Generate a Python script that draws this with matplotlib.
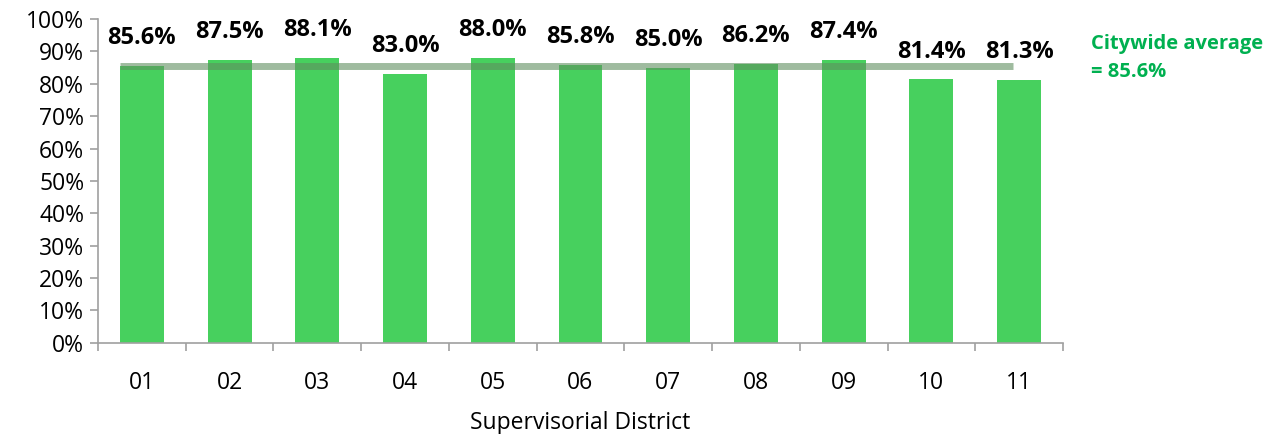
import matplotlib.pyplot as plt
import numpy as np

districts = ['01', '02', '03', '04', '05', '06', '07', '08', '09', '10', '11']
rates = [85.6, 87.5, 88.1, 83.0, 88.0, 85.8, 85.0, 86.2, 87.4, 81.4, 81.3]
citywide = 85.6

plt.rcParams['font.family'] = ['Open Sans', 'DejaVu Sans']

fig = plt.figure(figsize=(12.73, 4.34), dpi=100)
ax = fig.add_axes([0.077, 0.21, 0.758, 0.746])

x = np.arange(len(districts))
ax.bar(x, rates, width=0.5, color='#47d05e', zorder=2)

# citywide average line
ax.plot([x[0] - 0.25, x[-1] - 0.07], [citywide, citywide], color='#5f8f5f',
        alpha=0.6, linewidth=5, solid_capstyle='butt', zorder=3)

for xi, v in zip(x, rates):
    ax.annotate('%.1f%%' % v, (xi, v), xytext=(0, 20), textcoords='offset points',
                ha='center', va='center', fontsize=17, fontweight='bold', color='black')

ax.set_xlim(-0.5, len(districts) - 0.5)
ax.set_ylim(0, 100)
ax.set_yticks(range(0, 101, 10))
ax.set_yticklabels(['%d%%' % t for t in range(0, 101, 10)], fontsize=16.5)
ax.set_xticks(x)
ax.set_xticklabels(districts, fontsize=16.5)
ax.set_xticks(np.arange(-0.5, len(districts)), minor=True)
ax.tick_params(axis='x', which='major', length=0, pad=20)
ax.tick_params(axis='x', which='minor', length=6, color='#a0a0a0', width=1.2)
ax.tick_params(axis='y', length=6, color='#a0a0a0', width=1.2, pad=4)

for s in ['top', 'right']:
    ax.spines[s].set_visible(False)
for s in ['left', 'bottom']:
    ax.spines[s].set_color('#a0a0a0')
    ax.spines[s].set_linewidth(1.2)

ax.set_xlabel('Supervisorial District', fontsize=16.5, labelpad=12)

fig.text(0.857, 0.866, 'Citywide average\n= %.1f%%' % citywide, color='#00b050',
         fontsize=14.5, fontweight='bold', va='center', ha='left', linespacing=1.55)

fig.savefig('out.png', dpi=100)
